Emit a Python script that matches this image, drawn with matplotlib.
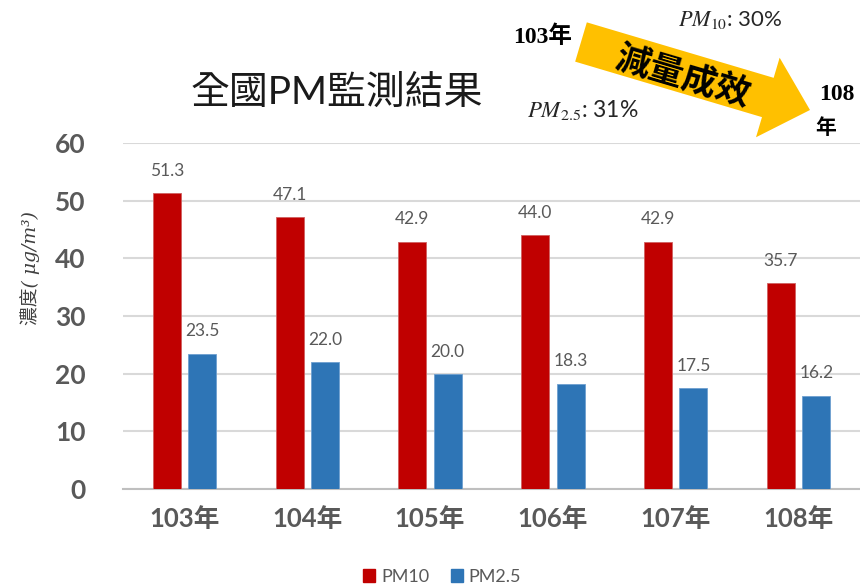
import numpy as np
import matplotlib
matplotlib.use("Agg")
import matplotlib.pyplot as plt
from matplotlib.patches import FancyArrow, Patch

plt.rcParams['font.family'] = ['Lato', 'Noto Sans CJK TC', 'DejaVu Sans']
plt.rcParams['mathtext.fontset'] = 'stix'

years = ["103年", "104年", "105年", "106年", "107年", "108年"]
pm10 = [51.3, 47.1, 42.9, 44.0, 42.9, 35.7]
pm25 = [23.5, 22.0, 20.0, 18.3, 17.5, 16.2]

red = '#C00000'
blue = '#2E75B6'
gray = '#595959'

fig = plt.figure(figsize=(8.6, 5.88), dpi=100)
ax = fig.add_axes([0.143, 0.168, 0.857, 0.589])

x = np.arange(len(years))
w = 0.228
off = 0.144
b1 = ax.bar(x - off, pm10, w, color=red, edgecolor='#D06060', linewidth=0.6, zorder=3)
b2 = ax.bar(x + off, pm25, w, color=blue, edgecolor='#6E9FD0', linewidth=0.6, zorder=3)

for bars in (b1, b2):
    for r in bars:
        ax.annotate(f"{r.get_height():.1f}", (r.get_x() + r.get_width() / 2, r.get_height()),
                    xytext=(0, 16), textcoords='offset points', ha='center', va='center',
                    fontsize=12.5, color=gray)

ax.set_xlim(-0.5, 5.5)
ax.set_ylim(0, 60)
ax.set_yticks(range(0, 61, 10))
ax.set_xticks(x)
ax.set_xticklabels(years)
ax.grid(axis='y', color='#D9D9D9', linewidth=1.5, zorder=0)
for s in ['top', 'right', 'left']:
    ax.spines[s].set_visible(False)
ax.spines['bottom'].set_color('#BFBFBF')
ax.spines['bottom'].set_linewidth(1.5)
ax.tick_params(axis='x', length=0, labelsize=18.5, labelcolor=gray, pad=13)
ax.tick_params(axis='y', length=0, labelsize=19, labelcolor=gray, pad=27)
for lab in ax.get_xticklabels() + ax.get_yticklabels():
    lab.set_fontweight('bold')

fig.text(0.035, 0.545, "濃度( μg/m³)", rotation=90, fontsize=13.5, style='italic',
         family=['DejaVu Serif', 'Noto Sans CJK TC'], color='#404040', ha='center', va='center')

fig.text(0.392, 0.842, "全國PM監測結果", fontsize=28, ha='center', va='center', color='#1A1A1A')

handles = [Patch(color=red, label='PM10'), Patch(color=blue, label='PM2.5')]
fig.legend(handles=handles, loc='center', bbox_to_anchor=(0.514, 0.019), ncol=2, frameon=False,
           fontsize=13, labelcolor=gray, handlelength=0.7, handleheight=0.7, handletextpad=0.3,
           columnspacing=1.2)

# overlay in pixel units for the annotation
ov = fig.add_axes([0, 0, 1, 1])
ov.set_xlim(0, 860)
ov.set_ylim(588, 0)
ov.axis('off')
ov.add_patch(FancyArrow(581, 42, 229, 68, width=41, head_width=83, head_length=44,
                        length_includes_head=True, color='#FFC000', linewidth=0))
ov.text(683, 76, "減量成效", fontsize=25, fontweight='bold', rotation=-16.5,
        ha='center', va='center', color='black', rotation_mode='anchor')
ser = ['Liberation Serif', 'Noto Sans CJK TC']
ov.text(543, 37, "103年", fontsize=17, fontweight='bold', family=ser, ha='center', va='center')
ov.text(837, 95, "108", fontsize=17, fontweight='bold', family=ser, ha='center', va='center')
ov.text(826, 129, "年", fontsize=15, fontweight='bold', family=ser, ha='center', va='center')
ov.text(730, 20, r"$PM_{10}$: 30%", fontsize=16, ha='center', va='center', color='#262626')
ov.text(583, 110, r"$PM_{2.5}$: 31%", fontsize=16.5, ha='center', va='center', color='#262626')

fig.savefig('out.png', dpi=100)
